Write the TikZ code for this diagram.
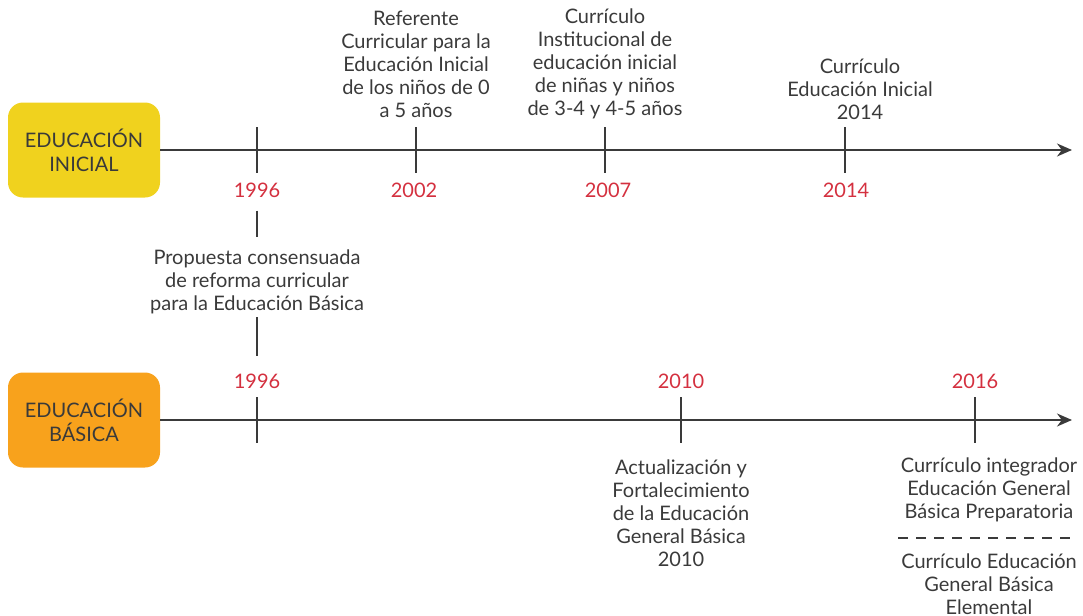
\documentclass[tikz,border=0pt]{standalone}
\usepackage{fontspec}
\setmainfont{Lato}
\usetikzlibrary{arrows.meta}

\definecolor{inicialcol}{HTML}{F0D21E}
\definecolor{basicacol}{HTML}{F8A21C}
\definecolor{aniocol}{HTML}{D4303F}
\definecolor{textocol}{HTML}{3A3A3A}

\begin{document}
\begin{tikzpicture}[x=0.5pt,y=-0.5pt,
    etapa/.style={rounded corners=7.5pt, minimum width=76pt, minimum height=47.5pt,
        align=center, text=textocol, inner sep=0pt, font=\fontsize{10}{12}\selectfont},
    hito/.style={align=center, text=textocol, inner sep=0pt, font=\fontsize{10}{11.5}\selectfont},
    anio/.style={text=aniocol, inner sep=0pt, font=\fontsize{10}{11.5}\selectfont},
    linea/.style={draw=textocol, line width=0.9pt},
    eje/.style={linea, -{Stealth[length=7.5pt,width=6.5pt]}}]
\useasboundingbox (0,0) rectangle (1083,616);

% Educacion Inicial
\node[etapa, fill=inicialcol] (inicial) at (84,150) {EDUCACIÓN\\INICIAL};
\coordinate (finInicial) at (1072,150);
\draw[eje] (inicial.east) -- (finInicial);

\foreach \x/\n in {257/i1996, 416/i2002, 605/i2007, 845/i2014}
    \draw[linea] (\x,127) coordinate (t\n) -- (\x,173);

\node[anio] (a1996i) at (257,190) {1996};
\node[anio] (a2002) at (414,190) {2002};
\node[anio] (a2007) at (608,190) {2007};
\node[anio] (a2014) at (846,190) {2014};

\node[hito] (referente) at (416,64) {Referente\\Curricular para la\\Educación Inicial\\de los niños de 0\\a 5 años};
\node[hito] (institucional) at (605,64) {Currículo\\Institucional de\\educación inicial\\de niñas y niños\\de 3-4 y 4-5 años};
\node[hito] (curriculo2014) at (860,89) {Currículo\\Educación Inicial\\2014};

% Propuesta entre ambas
\node[hito] (propuesta) at (257,282) {Propuesta consensuada\\de reforma curricular\\para la Educación Básica};

% Educacion Basica
\node[etapa, fill=basicacol] (basica) at (84,420) {EDUCACIÓN\\BÁSICA};
\coordinate (finBasica) at (1072,420);
\draw[eje] (basica.east) -- (finBasica);

\foreach \x/\n in {257/b1996, 681/b2010, 975/b2016}
    \draw[linea] (\x,397) coordinate (t\n) -- (\x,443);

\node[anio] (a1996b) at (257,381) {1996};
\node[anio] (a2010) at (681,381) {2010};
\node[anio] (a2016) at (975,381) {2016};

\draw[linea, shorten <=6.5pt, shorten >=6.5pt] (a1996i.south) -- (propuesta.north);
\draw[linea, shorten <=1.5pt, shorten >=8.5pt] (propuesta.south) -- (a1996b.north);

\node[hito] (actualizacion) at (681,513) {Actualización y\\Fortalecimiento\\de la Educación\\General Básica\\2010};
\node[hito] (preparatoria) at (989,490) {Currículo integrador\\Educación General\\Básica Preparatoria};
\node[hito] (elemental) at (989,584) {Currículo Educación\\General Básica\\Elemental};
\coordinate (sepIzq) at (898,538);
\coordinate (sepDer) at (1072,538);
\draw[linea, line width=0.7pt, dash pattern=on 5pt off 4pt] (sepIzq) -- (sepDer);
\end{tikzpicture}
\end{document}
